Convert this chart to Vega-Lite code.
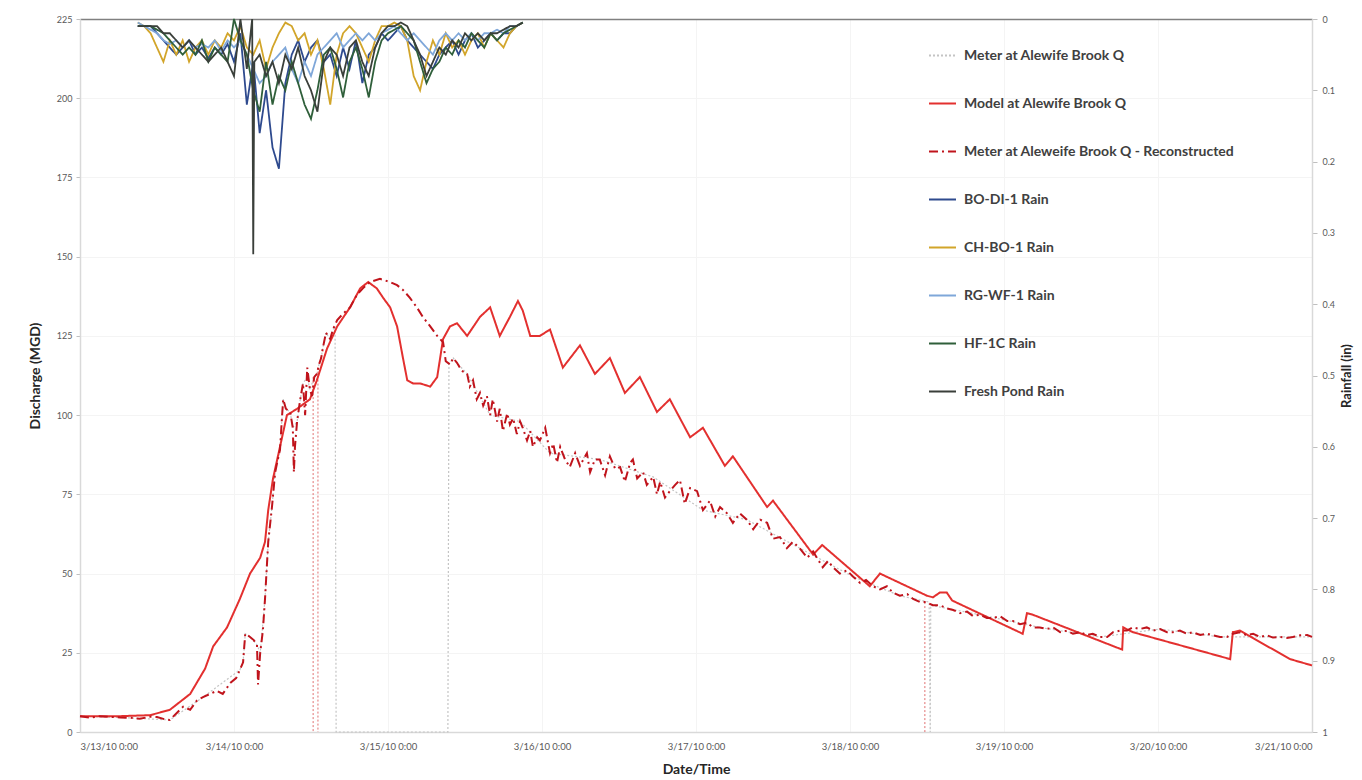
{
"$schema":"https://vega.github.io/schema/vega-lite/v6.json",
"autosize":{"type":"none"},
"padding":{"left":80,"top":19,"right":50,"bottom":48},
"width":1232,"height":713,
"datasets":{
"meter":[{"t":"2010-03-13T00:00Z","v":5},{"t":"2010-03-13T06:15Z","v":4.6},{"t":"2010-03-13T14:00Z","v":3.8},{"t":"2010-03-13T19:10Z","v":11},{"t":"2010-03-14T00:55Z","v":19.6},{"t":"2010-03-14T01:25Z","v":22},{"t":"2010-03-14T01:45Z","v":31},{"t":"2010-03-14T02:30Z","v":30},{"t":"2010-03-14T03:35Z","v":27.5},{"t":"2010-03-14T04:05Z","v":25},{"t":"2010-03-14T04:50Z","v":42},{"t":"2010-03-14T05:20Z","v":60},{"t":"2010-03-14T05:55Z","v":71},{"t":"2010-03-14T06:25Z","v":82},{"t":"2010-03-14T06:50Z","v":86},{"t":"2010-03-14T07:10Z","v":89},{"t":"2010-03-14T07:30Z","v":100},{"t":"2010-03-14T07:40Z","v":105},{"t":"2010-03-14T08:05Z","v":102},{"t":"2010-03-14T08:45Z","v":101},{"t":"2010-03-14T09:10Z","v":96},{"t":"2010-03-14T09:50Z","v":98},{"t":"2010-03-14T10:15Z","v":104},{"t":"2010-03-14T10:45Z","v":110},{"t":"2010-03-14T11:25Z","v":112},{"t":"2010-03-14T11:50Z","v":108},{"t":"2010-03-14T12:30Z","v":112},{"t":"2010-03-14T12:55Z","v":113},{"t":"2010-03-14T13:15Z","v":116},{"t":"2010-03-14T13:35Z","v":118},{"t":"2010-03-14T13:50Z","v":121},{"t":"2010-03-14T14:20Z","v":126},{"t":"2010-03-14T15:00Z","v":124},{"t":"2010-03-14T15:25Z","v":127},{"t":"2010-03-14T15:45Z","v":128},{"t":"2010-03-14T15:55Z","v":0},{"t":"2010-03-15T09:20Z","v":0},{"t":"2010-03-15T09:30Z","v":116},{"t":"2010-03-15T10:10Z","v":118},{"t":"2010-03-15T10:45Z","v":116.5},{"t":"2010-03-15T12:20Z","v":113},{"t":"2010-03-15T15:55Z","v":100},{"t":"2010-03-15T20:35Z","v":98},{"t":"2010-03-16T01:15Z","v":88},{"t":"2010-03-16T09:00Z","v":86},{"t":"2010-03-16T17:20Z","v":80.5},{"t":"2010-03-17T01:05Z","v":70},{"t":"2010-03-17T07:55Z","v":67},{"t":"2010-03-17T16:10Z","v":58},{"t":"2010-03-18T00:30Z","v":49},{"t":"2010-03-18T07:45Z","v":43},{"t":"2010-03-18T12:20Z","v":41},{"t":"2010-03-18T12:30Z","v":0},{"t":"2010-03-18T12:35Z","v":40},{"t":"2010-03-18T20:15Z","v":37},{"t":"2010-03-19T05:35Z","v":33},{"t":"2010-03-19T14:55Z","v":30},{"t":"2010-03-20T00:20Z","v":32.5},{"t":"2010-03-20T09:40Z","v":30},{"t":"2010-03-21T00:00Z","v":30}],
"gaps":[{"t":"2010-03-14T12:20Z","v":112},{"t":"2010-03-14T13:05Z","v":115},{"t":"2010-03-18T11:40Z","v":41}],
"model":[{"t":"2010-03-13T00:00Z","v":5},{"t":"2010-03-13T06:15Z","v":5},{"t":"2010-03-13T10:55Z","v":5.3},{"t":"2010-03-13T14:00Z","v":7},{"t":"2010-03-13T17:10Z","v":12},{"t":"2010-03-13T19:30Z","v":20},{"t":"2010-03-13T20:45Z","v":27},{"t":"2010-03-13T21:50Z","v":30},{"t":"2010-03-13T22:55Z","v":33},{"t":"2010-03-14T00:55Z","v":42},{"t":"2010-03-14T02:30Z","v":50},{"t":"2010-03-14T04:05Z","v":55},{"t":"2010-03-14T04:50Z","v":60},{"t":"2010-03-14T05:20Z","v":70},{"t":"2010-03-14T06:05Z","v":80},{"t":"2010-03-14T07:10Z","v":90},{"t":"2010-03-14T08:15Z","v":100},{"t":"2010-03-14T09:50Z","v":102},{"t":"2010-03-14T11:50Z","v":105},{"t":"2010-03-14T12:55Z","v":111},{"t":"2010-03-14T14:30Z","v":121},{"t":"2010-03-14T16:05Z","v":128},{"t":"2010-03-14T18:05Z","v":134},{"t":"2010-03-14T19:40Z","v":140},{"t":"2010-03-14T20:55Z","v":142},{"t":"2010-03-14T22:15Z","v":140},{"t":"2010-03-14T23:15Z","v":137},{"t":"2010-03-15T00:20Z","v":134},{"t":"2010-03-15T01:25Z","v":128},{"t":"2010-03-15T02:20Z","v":118},{"t":"2010-03-15T03:00Z","v":111},{"t":"2010-03-15T03:55Z","v":110},{"t":"2010-03-15T05:00Z","v":110},{"t":"2010-03-15T06:35Z","v":109},{"t":"2010-03-15T07:40Z","v":112},{"t":"2010-03-15T08:35Z","v":124},{"t":"2010-03-15T09:40Z","v":128},{"t":"2010-03-15T10:45Z","v":129},{"t":"2010-03-15T12:20Z","v":125},{"t":"2010-03-15T14:20Z","v":131},{"t":"2010-03-15T15:55Z","v":134},{"t":"2010-03-15T17:25Z","v":125},{"t":"2010-03-15T19:00Z","v":131},{"t":"2010-03-15T20:15Z","v":136},{"t":"2010-03-15T21:00Z","v":133},{"t":"2010-03-15T22:10Z","v":125},{"t":"2010-03-15T23:40Z","v":125},{"t":"2010-03-16T01:15Z","v":127},{"t":"2010-03-16T03:15Z","v":115},{"t":"2010-03-16T05:55Z","v":122},{"t":"2010-03-16T08:15Z","v":113},{"t":"2010-03-16T10:35Z","v":118},{"t":"2010-03-16T12:55Z","v":107},{"t":"2010-03-16T15:15Z","v":112},{"t":"2010-03-16T17:55Z","v":101},{"t":"2010-03-16T19:55Z","v":105},{"t":"2010-03-16T23:05Z","v":93},{"t":"2010-03-17T01:05Z","v":96},{"t":"2010-03-17T04:30Z","v":84},{"t":"2010-03-17T05:45Z","v":87},{"t":"2010-03-17T11:05Z","v":71},{"t":"2010-03-17T12:00Z","v":73},{"t":"2010-03-17T18:15Z","v":56},{"t":"2010-03-17T19:40Z","v":59},{"t":"2010-03-18T03:05Z","v":46},{"t":"2010-03-18T04:40Z","v":50},{"t":"2010-03-18T12:00Z","v":43},{"t":"2010-03-18T12:55Z","v":42.5},{"t":"2010-03-18T14:00Z","v":44},{"t":"2010-03-18T15:05Z","v":44},{"t":"2010-03-18T15:55Z","v":41.5},{"t":"2010-03-19T02:55Z","v":31},{"t":"2010-03-19T03:35Z","v":37.5},{"t":"2010-03-19T04:30Z","v":37},{"t":"2010-03-19T18:25Z","v":26},{"t":"2010-03-19T18:35Z","v":33},{"t":"2010-03-19T20:05Z","v":31.5},{"t":"2010-03-20T11:15Z","v":23},{"t":"2010-03-20T11:40Z","v":31.5},{"t":"2010-03-20T12:45Z","v":32},{"t":"2010-03-20T20:35Z","v":23},{"t":"2010-03-21T00:00Z","v":21}],
"recon":[{"t":"2010-03-13T00:00Z","v":5},{"t":"2010-03-13T01:35Z","v":4.5},{"t":"2010-03-13T03:05Z","v":5},{"t":"2010-03-13T04:40Z","v":4.8},{"t":"2010-03-13T06:15Z","v":4.6},{"t":"2010-03-13T07:45Z","v":4.5},{"t":"2010-03-13T09:20Z","v":4.2},{"t":"2010-03-13T10:55Z","v":4.8},{"t":"2010-03-13T12:00Z","v":4.7},{"t":"2010-03-13T13:15Z","v":4},{"t":"2010-03-13T14:00Z","v":3.8},{"t":"2010-03-13T15:05Z","v":6},{"t":"2010-03-13T16:05Z","v":8},{"t":"2010-03-13T17:10Z","v":7},{"t":"2010-03-13T18:15Z","v":10},{"t":"2010-03-13T19:10Z","v":11},{"t":"2010-03-13T20:15Z","v":12},{"t":"2010-03-13T21:20Z","v":13},{"t":"2010-03-13T22:15Z","v":12},{"t":"2010-03-13T23:25Z","v":15.5},{"t":"2010-03-14T00:20Z","v":17},{"t":"2010-03-14T00:55Z","v":19.6},{"t":"2010-03-14T01:25Z","v":22},{"t":"2010-03-14T01:45Z","v":31},{"t":"2010-03-14T02:30Z","v":30},{"t":"2010-03-14T03:05Z","v":29},{"t":"2010-03-14T03:35Z","v":27.5},{"t":"2010-03-14T03:45Z","v":15},{"t":"2010-03-14T04:05Z","v":25},{"t":"2010-03-14T04:30Z","v":32},{"t":"2010-03-14T04:50Z","v":42},{"t":"2010-03-14T05:20Z","v":60},{"t":"2010-03-14T05:55Z","v":71},{"t":"2010-03-14T06:25Z","v":82},{"t":"2010-03-14T06:50Z","v":86},{"t":"2010-03-14T07:10Z","v":89},{"t":"2010-03-14T07:30Z","v":100},{"t":"2010-03-14T07:40Z","v":105},{"t":"2010-03-14T08:05Z","v":102},{"t":"2010-03-14T08:45Z","v":101},{"t":"2010-03-14T09:10Z","v":96},{"t":"2010-03-14T09:20Z","v":82},{"t":"2010-03-14T09:30Z","v":90},{"t":"2010-03-14T09:50Z","v":98},{"t":"2010-03-14T10:15Z","v":104},{"t":"2010-03-14T10:45Z","v":110},{"t":"2010-03-14T11:05Z","v":100},{"t":"2010-03-14T11:25Z","v":115},{"t":"2010-03-14T11:50Z","v":108},{"t":"2010-03-14T12:10Z","v":106},{"t":"2010-03-14T12:30Z","v":112},{"t":"2010-03-14T12:55Z","v":113},{"t":"2010-03-14T13:15Z","v":116},{"t":"2010-03-14T13:35Z","v":118},{"t":"2010-03-14T13:50Z","v":121},{"t":"2010-03-14T14:20Z","v":126},{"t":"2010-03-14T15:00Z","v":124},{"t":"2010-03-14T15:25Z","v":127},{"t":"2010-03-14T16:05Z","v":130},{"t":"2010-03-14T17:00Z","v":132},{"t":"2010-03-14T18:05Z","v":134},{"t":"2010-03-14T19:10Z","v":138},{"t":"2010-03-14T20:05Z","v":140},{"t":"2010-03-14T21:10Z","v":142},{"t":"2010-03-14T22:45Z","v":143},{"t":"2010-03-15T00:20Z","v":142},{"t":"2010-03-15T01:25Z","v":141},{"t":"2010-03-15T02:20Z","v":139.5},{"t":"2010-03-15T03:25Z","v":137},{"t":"2010-03-15T04:30Z","v":134},{"t":"2010-03-15T05:25Z","v":131},{"t":"2010-03-15T06:35Z","v":128},{"t":"2010-03-15T07:40Z","v":125},{"t":"2010-03-15T08:35Z","v":123},{"t":"2010-03-15T09:00Z","v":117},{"t":"2010-03-15T09:40Z","v":116},{"t":"2010-03-15T10:10Z","v":118},{"t":"2010-03-15T10:45Z","v":116.5},{"t":"2010-03-15T11:30Z","v":114},{"t":"2010-03-15T12:20Z","v":113},{"t":"2010-03-15T12:45Z","v":109},{"t":"2010-03-15T13:15Z","v":111},{"t":"2010-03-15T13:50Z","v":105},{"t":"2010-03-15T14:20Z","v":107},{"t":"2010-03-15T14:50Z","v":103},{"t":"2010-03-15T15:25Z","v":106},{"t":"2010-03-15T15:55Z","v":100},{"t":"2010-03-15T16:20Z","v":105},{"t":"2010-03-15T17:00Z","v":98},{"t":"2010-03-15T17:25Z","v":102},{"t":"2010-03-15T17:55Z","v":95},{"t":"2010-03-15T18:35Z","v":100.6},{"t":"2010-03-15T19:00Z","v":97},{"t":"2010-03-15T19:30Z","v":99},{"t":"2010-03-15T20:05Z","v":94},{"t":"2010-03-15T20:35Z","v":98},{"t":"2010-03-15T21:00Z","v":96},{"t":"2010-03-15T21:40Z","v":92},{"t":"2010-03-15T22:10Z","v":95},{"t":"2010-03-15T22:35Z","v":90},{"t":"2010-03-15T23:15Z","v":93},{"t":"2010-03-15T23:40Z","v":92},{"t":"2010-03-16T00:30Z","v":96},{"t":"2010-03-16T01:15Z","v":88},{"t":"2010-03-16T01:45Z","v":91},{"t":"2010-03-16T02:20Z","v":85},{"t":"2010-03-16T02:50Z","v":90},{"t":"2010-03-16T03:35Z","v":86},{"t":"2010-03-16T04:20Z","v":83.6},{"t":"2010-03-16T05:10Z","v":88},{"t":"2010-03-16T05:55Z","v":84},{"t":"2010-03-16T07:00Z","v":88},{"t":"2010-03-16T07:30Z","v":82},{"t":"2010-03-16T08:15Z","v":86},{"t":"2010-03-16T09:00Z","v":86},{"t":"2010-03-16T09:50Z","v":81},{"t":"2010-03-16T10:35Z","v":87},{"t":"2010-03-16T11:25Z","v":83},{"t":"2010-03-16T12:10Z","v":83.6},{"t":"2010-03-16T12:55Z","v":79},{"t":"2010-03-16T13:45Z","v":85},{"t":"2010-03-16T14:10Z","v":86},{"t":"2010-03-16T14:50Z","v":80},{"t":"2010-03-16T15:45Z","v":82},{"t":"2010-03-16T16:20Z","v":78},{"t":"2010-03-16T17:20Z","v":80.5},{"t":"2010-03-16T17:55Z","v":75},{"t":"2010-03-16T18:25Z","v":79},{"t":"2010-03-16T19:10Z","v":74},{"t":"2010-03-16T19:55Z","v":76},{"t":"2010-03-16T20:45Z","v":78},{"t":"2010-03-16T21:30Z","v":79.5},{"t":"2010-03-16T22:15Z","v":72},{"t":"2010-03-16T23:05Z","v":77},{"t":"2010-03-17T00:10Z","v":76},{"t":"2010-03-17T01:05Z","v":70},{"t":"2010-03-17T02:10Z","v":73},{"t":"2010-03-17T03:00Z","v":68},{"t":"2010-03-17T03:45Z","v":71},{"t":"2010-03-17T04:50Z","v":69},{"t":"2010-03-17T05:45Z","v":66},{"t":"2010-03-17T06:50Z","v":69},{"t":"2010-03-17T07:55Z","v":67},{"t":"2010-03-17T08:55Z","v":64},{"t":"2010-03-17T10:00Z","v":67},{"t":"2010-03-17T11:05Z","v":66},{"t":"2010-03-17T12:00Z","v":61},{"t":"2010-03-17T13:05Z","v":61.5},{"t":"2010-03-17T14:10Z","v":58},{"t":"2010-03-17T15:05Z","v":60},{"t":"2010-03-17T16:10Z","v":58},{"t":"2010-03-17T17:20Z","v":55},{"t":"2010-03-17T18:15Z","v":57},{"t":"2010-03-17T18:50Z","v":55},{"t":"2010-03-17T19:45Z","v":52},{"t":"2010-03-17T20:35Z","v":54},{"t":"2010-03-17T21:20Z","v":52},{"t":"2010-03-17T22:25Z","v":50},{"t":"2010-03-17T23:30Z","v":51},{"t":"2010-03-18T00:30Z","v":49},{"t":"2010-03-18T01:35Z","v":47},{"t":"2010-03-18T02:30Z","v":48},{"t":"2010-03-18T03:35Z","v":46},{"t":"2010-03-18T04:40Z","v":45},{"t":"2010-03-18T05:45Z","v":46},{"t":"2010-03-18T06:40Z","v":44},{"t":"2010-03-18T07:45Z","v":43},{"t":"2010-03-18T08:55Z","v":43.5},{"t":"2010-03-18T09:50Z","v":42},{"t":"2010-03-18T10:55Z","v":41},{"t":"2010-03-18T11:50Z","v":41},{"t":"2010-03-18T12:55Z","v":40},{"t":"2010-03-18T14:00Z","v":40},{"t":"2010-03-18T15:05Z","v":39},{"t":"2010-03-18T16:05Z","v":38.5},{"t":"2010-03-18T17:10Z","v":37.5},{"t":"2010-03-18T18:15Z","v":38},{"t":"2010-03-18T19:10Z","v":36.6},{"t":"2010-03-18T20:15Z","v":37},{"t":"2010-03-18T21:20Z","v":36},{"t":"2010-03-18T22:15Z","v":36},{"t":"2010-03-18T23:25Z","v":36.5},{"t":"2010-03-19T00:30Z","v":35},{"t":"2010-03-19T01:25Z","v":35},{"t":"2010-03-19T02:30Z","v":34},{"t":"2010-03-19T03:35Z","v":34.5},{"t":"2010-03-19T04:30Z","v":33},{"t":"2010-03-19T05:35Z","v":33},{"t":"2010-03-19T06:40Z","v":32.5},{"t":"2010-03-19T07:40Z","v":33},{"t":"2010-03-19T08:45Z","v":31.5},{"t":"2010-03-19T09:50Z","v":32},{"t":"2010-03-19T10:45Z","v":31},{"t":"2010-03-19T11:50Z","v":31.5},{"t":"2010-03-19T12:55Z","v":30.6},{"t":"2010-03-19T13:50Z","v":31},{"t":"2010-03-19T14:55Z","v":30},{"t":"2010-03-19T16:05Z","v":30},{"t":"2010-03-19T17:00Z","v":31.5},{"t":"2010-03-19T18:05Z","v":32},{"t":"2010-03-19T19:10Z","v":32},{"t":"2010-03-19T20:05Z","v":33},{"t":"2010-03-19T21:10Z","v":32.5},{"t":"2010-03-19T22:15Z","v":33},{"t":"2010-03-19T23:15Z","v":32},{"t":"2010-03-20T00:20Z","v":32.5},{"t":"2010-03-20T01:25Z","v":31.5},{"t":"2010-03-20T02:20Z","v":31.5},{"t":"2010-03-20T03:25Z","v":32},{"t":"2010-03-20T04:30Z","v":31},{"t":"2010-03-20T05:25Z","v":31.5},{"t":"2010-03-20T06:35Z","v":30.6},{"t":"2010-03-20T07:40Z","v":31},{"t":"2010-03-20T08:35Z","v":30.5},{"t":"2010-03-20T09:40Z","v":30},{"t":"2010-03-20T10:45Z","v":30},{"t":"2010-03-20T11:40Z","v":31},{"t":"2010-03-20T12:45Z","v":31.5},{"t":"2010-03-20T13:50Z","v":30.5},{"t":"2010-03-20T14:50Z","v":31},{"t":"2010-03-20T15:55Z","v":30},{"t":"2010-03-20T17:00Z","v":30.5},{"t":"2010-03-20T17:55Z","v":29.8},{"t":"2010-03-20T19:00Z","v":30},{"t":"2010-03-20T20:05Z","v":29.7},{"t":"2010-03-20T21:00Z","v":30},{"t":"2010-03-20T22:10Z","v":30.5},{"t":"2010-03-20T23:15Z","v":30.6},{"t":"2010-03-21T00:00Z","v":30}],
"bodi":[{"t":"2010-03-13T09:00Z","v":0.01},{"t":"2010-03-13T10:00Z","v":0.01},{"t":"2010-03-13T11:00Z","v":0.01},{"t":"2010-03-13T12:00Z","v":0.02},{"t":"2010-03-13T13:00Z","v":0.03},{"t":"2010-03-13T14:00Z","v":0.04},{"t":"2010-03-13T15:00Z","v":0.05},{"t":"2010-03-13T16:00Z","v":0.04},{"t":"2010-03-13T17:00Z","v":0.03},{"t":"2010-03-13T18:00Z","v":0.05},{"t":"2010-03-13T19:00Z","v":0.04},{"t":"2010-03-13T20:00Z","v":0.055},{"t":"2010-03-13T21:00Z","v":0.04},{"t":"2010-03-13T22:00Z","v":0.05},{"t":"2010-03-13T23:00Z","v":0.035},{"t":"2010-03-14T00:00Z","v":0.06},{"t":"2010-03-14T01:00Z","v":0.02},{"t":"2010-03-14T02:00Z","v":0.12},{"t":"2010-03-14T03:00Z","v":0.06},{"t":"2010-03-14T04:00Z","v":0.16},{"t":"2010-03-14T05:00Z","v":0.1},{"t":"2010-03-14T06:00Z","v":0.18},{"t":"2010-03-14T07:00Z","v":0.21},{"t":"2010-03-14T08:00Z","v":0.09},{"t":"2010-03-14T09:00Z","v":0.05},{"t":"2010-03-14T10:00Z","v":0.03},{"t":"2010-03-14T11:00Z","v":0.06},{"t":"2010-03-14T12:00Z","v":0.04},{"t":"2010-03-14T13:00Z","v":0.03},{"t":"2010-03-14T14:00Z","v":0.06},{"t":"2010-03-14T15:00Z","v":0.05},{"t":"2010-03-14T16:00Z","v":0.08},{"t":"2010-03-14T17:00Z","v":0.04},{"t":"2010-03-14T18:00Z","v":0.07},{"t":"2010-03-14T19:00Z","v":0.03},{"t":"2010-03-14T20:00Z","v":0.09},{"t":"2010-03-14T21:00Z","v":0.05},{"t":"2010-03-14T22:00Z","v":0.04},{"t":"2010-03-14T23:00Z","v":0.02},{"t":"2010-03-15T00:00Z","v":0.03},{"t":"2010-03-15T01:00Z","v":0.02},{"t":"2010-03-15T02:00Z","v":0.01},{"t":"2010-03-15T03:00Z","v":0.03},{"t":"2010-03-15T04:00Z","v":0.04},{"t":"2010-03-15T05:00Z","v":0.05},{"t":"2010-03-15T06:00Z","v":0.06},{"t":"2010-03-15T07:00Z","v":0.07},{"t":"2010-03-15T08:00Z","v":0.05},{"t":"2010-03-15T09:00Z","v":0.04},{"t":"2010-03-15T10:00Z","v":0.03},{"t":"2010-03-15T11:00Z","v":0.05},{"t":"2010-03-15T12:00Z","v":0.03},{"t":"2010-03-15T13:00Z","v":0.02},{"t":"2010-03-15T14:00Z","v":0.04},{"t":"2010-03-15T15:00Z","v":0.03},{"t":"2010-03-15T16:00Z","v":0.02},{"t":"2010-03-15T17:00Z","v":0.03},{"t":"2010-03-15T18:00Z","v":0.02},{"t":"2010-03-15T19:00Z","v":0.02},{"t":"2010-03-15T20:00Z","v":0.01},{"t":"2010-03-15T21:00Z","v":0.005}],
"chbo":[{"t":"2010-03-13T09:00Z","v":0.005},{"t":"2010-03-13T10:00Z","v":0.01},{"t":"2010-03-13T11:00Z","v":0.02},{"t":"2010-03-13T12:00Z","v":0.04},{"t":"2010-03-13T13:00Z","v":0.06},{"t":"2010-03-13T14:00Z","v":0.03},{"t":"2010-03-13T15:00Z","v":0.05},{"t":"2010-03-13T16:00Z","v":0.03},{"t":"2010-03-13T17:00Z","v":0.06},{"t":"2010-03-13T18:00Z","v":0.04},{"t":"2010-03-13T19:00Z","v":0.03},{"t":"2010-03-13T20:00Z","v":0.05},{"t":"2010-03-13T21:00Z","v":0.03},{"t":"2010-03-13T22:00Z","v":0.04},{"t":"2010-03-13T23:00Z","v":0.02},{"t":"2010-03-14T00:00Z","v":0.03},{"t":"2010-03-14T01:00Z","v":0.01},{"t":"2010-03-14T02:00Z","v":0.04},{"t":"2010-03-14T03:00Z","v":0.05},{"t":"2010-03-14T04:00Z","v":0.03},{"t":"2010-03-14T05:00Z","v":0.07},{"t":"2010-03-14T06:00Z","v":0.04},{"t":"2010-03-14T07:00Z","v":0.02},{"t":"2010-03-14T08:00Z","v":0.005},{"t":"2010-03-14T09:00Z","v":0.01},{"t":"2010-03-14T10:00Z","v":0.03},{"t":"2010-03-14T11:00Z","v":0.02},{"t":"2010-03-14T12:00Z","v":0.05},{"t":"2010-03-14T13:00Z","v":0.03},{"t":"2010-03-14T14:00Z","v":0.07},{"t":"2010-03-14T15:00Z","v":0.12},{"t":"2010-03-14T16:00Z","v":0.05},{"t":"2010-03-14T17:00Z","v":0.02},{"t":"2010-03-14T18:00Z","v":0.01},{"t":"2010-03-14T19:00Z","v":0.02},{"t":"2010-03-14T20:00Z","v":0.04},{"t":"2010-03-14T21:00Z","v":0.06},{"t":"2010-03-14T22:00Z","v":0.03},{"t":"2010-03-14T23:00Z","v":0.01},{"t":"2010-03-15T00:00Z","v":0.01},{"t":"2010-03-15T01:00Z","v":0.005},{"t":"2010-03-15T02:00Z","v":0.01},{"t":"2010-03-15T03:00Z","v":0.03},{"t":"2010-03-15T04:00Z","v":0.08},{"t":"2010-03-15T05:00Z","v":0.1},{"t":"2010-03-15T06:00Z","v":0.06},{"t":"2010-03-15T07:00Z","v":0.03},{"t":"2010-03-15T08:00Z","v":0.05},{"t":"2010-03-15T09:00Z","v":0.02},{"t":"2010-03-15T10:00Z","v":0.04},{"t":"2010-03-15T11:00Z","v":0.03},{"t":"2010-03-15T12:00Z","v":0.05},{"t":"2010-03-15T13:00Z","v":0.03},{"t":"2010-03-15T14:00Z","v":0.02},{"t":"2010-03-15T15:00Z","v":0.04},{"t":"2010-03-15T16:00Z","v":0.02},{"t":"2010-03-15T17:00Z","v":0.03},{"t":"2010-03-15T18:00Z","v":0.04},{"t":"2010-03-15T19:00Z","v":0.02},{"t":"2010-03-15T20:00Z","v":0.01},{"t":"2010-03-15T21:00Z","v":0.005}],
"rgwf":[{"t":"2010-03-13T09:00Z","v":0.005},{"t":"2010-03-13T10:00Z","v":0.01},{"t":"2010-03-13T11:00Z","v":0.015},{"t":"2010-03-13T12:00Z","v":0.02},{"t":"2010-03-13T13:00Z","v":0.03},{"t":"2010-03-13T14:00Z","v":0.035},{"t":"2010-03-13T15:00Z","v":0.03},{"t":"2010-03-13T16:00Z","v":0.04},{"t":"2010-03-13T17:00Z","v":0.03},{"t":"2010-03-13T18:00Z","v":0.04},{"t":"2010-03-13T19:00Z","v":0.035},{"t":"2010-03-13T20:00Z","v":0.04},{"t":"2010-03-13T21:00Z","v":0.03},{"t":"2010-03-13T22:00Z","v":0.045},{"t":"2010-03-13T23:00Z","v":0.03},{"t":"2010-03-14T00:00Z","v":0.04},{"t":"2010-03-14T01:00Z","v":0.03},{"t":"2010-03-14T02:00Z","v":0.05},{"t":"2010-03-14T03:00Z","v":0.07},{"t":"2010-03-14T04:00Z","v":0.09},{"t":"2010-03-14T05:00Z","v":0.08},{"t":"2010-03-14T06:00Z","v":0.06},{"t":"2010-03-14T07:00Z","v":0.05},{"t":"2010-03-14T08:00Z","v":0.04},{"t":"2010-03-14T09:00Z","v":0.07},{"t":"2010-03-14T10:00Z","v":0.09},{"t":"2010-03-14T11:00Z","v":0.06},{"t":"2010-03-14T12:00Z","v":0.08},{"t":"2010-03-14T13:00Z","v":0.05},{"t":"2010-03-14T14:00Z","v":0.04},{"t":"2010-03-14T15:00Z","v":0.03},{"t":"2010-03-14T16:00Z","v":0.02},{"t":"2010-03-14T17:00Z","v":0.04},{"t":"2010-03-14T18:00Z","v":0.03},{"t":"2010-03-14T19:00Z","v":0.02},{"t":"2010-03-14T20:00Z","v":0.03},{"t":"2010-03-14T21:00Z","v":0.02},{"t":"2010-03-14T22:00Z","v":0.03},{"t":"2010-03-14T23:00Z","v":0.02},{"t":"2010-03-15T00:00Z","v":0.015},{"t":"2010-03-15T01:00Z","v":0.01},{"t":"2010-03-15T02:00Z","v":0.02},{"t":"2010-03-15T03:00Z","v":0.03},{"t":"2010-03-15T04:00Z","v":0.02},{"t":"2010-03-15T05:00Z","v":0.03},{"t":"2010-03-15T06:00Z","v":0.04},{"t":"2010-03-15T07:00Z","v":0.05},{"t":"2010-03-15T08:00Z","v":0.03},{"t":"2010-03-15T09:00Z","v":0.02},{"t":"2010-03-15T10:00Z","v":0.03},{"t":"2010-03-15T11:00Z","v":0.02},{"t":"2010-03-15T12:00Z","v":0.03},{"t":"2010-03-15T13:00Z","v":0.02},{"t":"2010-03-15T14:00Z","v":0.03},{"t":"2010-03-15T15:00Z","v":0.02},{"t":"2010-03-15T16:00Z","v":0.02},{"t":"2010-03-15T17:00Z","v":0.015},{"t":"2010-03-15T18:00Z","v":0.02},{"t":"2010-03-15T19:00Z","v":0.01},{"t":"2010-03-15T20:00Z","v":0.01},{"t":"2010-03-15T21:00Z","v":0.005}],
"hf1c":[{"t":"2010-03-13T09:00Z","v":0.01},{"t":"2010-03-13T10:00Z","v":0.01},{"t":"2010-03-13T11:00Z","v":0.01},{"t":"2010-03-13T12:00Z","v":0.015},{"t":"2010-03-13T13:00Z","v":0.02},{"t":"2010-03-13T14:00Z","v":0.03},{"t":"2010-03-13T15:00Z","v":0.04},{"t":"2010-03-13T16:00Z","v":0.05},{"t":"2010-03-13T17:00Z","v":0.04},{"t":"2010-03-13T18:00Z","v":0.05},{"t":"2010-03-13T19:00Z","v":0.03},{"t":"2010-03-13T20:00Z","v":0.06},{"t":"2010-03-13T21:00Z","v":0.04},{"t":"2010-03-13T22:00Z","v":0.05},{"t":"2010-03-13T23:00Z","v":0.06},{"t":"2010-03-14T00:00Z","v":0.0},{"t":"2010-03-14T01:00Z","v":0.03},{"t":"2010-03-14T02:00Z","v":0.05},{"t":"2010-03-14T03:00Z","v":0.1},{"t":"2010-03-14T04:00Z","v":0.13},{"t":"2010-03-14T05:00Z","v":0.06},{"t":"2010-03-14T06:00Z","v":0.12},{"t":"2010-03-14T07:00Z","v":0.08},{"t":"2010-03-14T08:00Z","v":0.1},{"t":"2010-03-14T09:00Z","v":0.06},{"t":"2010-03-14T10:00Z","v":0.09},{"t":"2010-03-14T11:00Z","v":0.12},{"t":"2010-03-14T12:00Z","v":0.14},{"t":"2010-03-14T13:00Z","v":0.1},{"t":"2010-03-14T14:00Z","v":0.05},{"t":"2010-03-14T15:00Z","v":0.04},{"t":"2010-03-14T16:00Z","v":0.07},{"t":"2010-03-14T17:00Z","v":0.11},{"t":"2010-03-14T18:00Z","v":0.06},{"t":"2010-03-14T19:00Z","v":0.04},{"t":"2010-03-14T20:00Z","v":0.07},{"t":"2010-03-14T21:00Z","v":0.11},{"t":"2010-03-14T22:00Z","v":0.06},{"t":"2010-03-14T23:00Z","v":0.03},{"t":"2010-03-15T00:00Z","v":0.02},{"t":"2010-03-15T01:00Z","v":0.015},{"t":"2010-03-15T02:00Z","v":0.01},{"t":"2010-03-15T03:00Z","v":0.02},{"t":"2010-03-15T04:00Z","v":0.03},{"t":"2010-03-15T05:00Z","v":0.06},{"t":"2010-03-15T06:00Z","v":0.09},{"t":"2010-03-15T07:00Z","v":0.07},{"t":"2010-03-15T08:00Z","v":0.06},{"t":"2010-03-15T09:00Z","v":0.04},{"t":"2010-03-15T10:00Z","v":0.05},{"t":"2010-03-15T11:00Z","v":0.03},{"t":"2010-03-15T12:00Z","v":0.04},{"t":"2010-03-15T13:00Z","v":0.02},{"t":"2010-03-15T14:00Z","v":0.03},{"t":"2010-03-15T15:00Z","v":0.04},{"t":"2010-03-15T16:00Z","v":0.02},{"t":"2010-03-15T17:00Z","v":0.03},{"t":"2010-03-15T18:00Z","v":0.02},{"t":"2010-03-15T19:00Z","v":0.015},{"t":"2010-03-15T20:00Z","v":0.01},{"t":"2010-03-15T21:00Z","v":0.005}],
"fresh":[{"t":"2010-03-13T09:00Z","v":0.01},{"t":"2010-03-13T10:00Z","v":0.01},{"t":"2010-03-13T11:00Z","v":0.01},{"t":"2010-03-13T12:00Z","v":0.01},{"t":"2010-03-13T13:00Z","v":0.02},{"t":"2010-03-13T14:00Z","v":0.02},{"t":"2010-03-13T15:00Z","v":0.03},{"t":"2010-03-13T16:00Z","v":0.04},{"t":"2010-03-13T17:00Z","v":0.03},{"t":"2010-03-13T18:00Z","v":0.04},{"t":"2010-03-13T19:00Z","v":0.05},{"t":"2010-03-13T20:00Z","v":0.06},{"t":"2010-03-13T21:00Z","v":0.05},{"t":"2010-03-13T22:00Z","v":0.04},{"t":"2010-03-13T23:00Z","v":0.06},{"t":"2010-03-14T00:00Z","v":0.08},{"t":"2010-03-14T01:00Z","v":0.0},{"t":"2010-03-14T02:00Z","v":0.07},{"t":"2010-03-14T02:50Z","v":0.0},{"t":"2010-03-14T03:00Z","v":0.33},{"t":"2010-03-14T03:10Z","v":0.06},{"t":"2010-03-14T04:00Z","v":0.05},{"t":"2010-03-14T05:00Z","v":0.08},{"t":"2010-03-14T06:00Z","v":0.06},{"t":"2010-03-14T07:00Z","v":0.09},{"t":"2010-03-14T08:00Z","v":0.05},{"t":"2010-03-14T09:00Z","v":0.07},{"t":"2010-03-14T10:00Z","v":0.04},{"t":"2010-03-14T11:00Z","v":0.08},{"t":"2010-03-14T12:00Z","v":0.1},{"t":"2010-03-14T13:00Z","v":0.13},{"t":"2010-03-14T14:00Z","v":0.06},{"t":"2010-03-14T15:00Z","v":0.04},{"t":"2010-03-14T16:00Z","v":0.05},{"t":"2010-03-14T17:00Z","v":0.08},{"t":"2010-03-14T18:00Z","v":0.04},{"t":"2010-03-14T19:00Z","v":0.03},{"t":"2010-03-14T20:00Z","v":0.06},{"t":"2010-03-14T21:00Z","v":0.08},{"t":"2010-03-14T22:00Z","v":0.04},{"t":"2010-03-14T23:00Z","v":0.02},{"t":"2010-03-15T00:00Z","v":0.01},{"t":"2010-03-15T01:00Z","v":0.01},{"t":"2010-03-15T02:00Z","v":0.005},{"t":"2010-03-15T03:00Z","v":0.01},{"t":"2010-03-15T04:00Z","v":0.03},{"t":"2010-03-15T05:00Z","v":0.05},{"t":"2010-03-15T06:00Z","v":0.08},{"t":"2010-03-15T07:00Z","v":0.06},{"t":"2010-03-15T08:00Z","v":0.04},{"t":"2010-03-15T09:00Z","v":0.05},{"t":"2010-03-15T10:00Z","v":0.03},{"t":"2010-03-15T11:00Z","v":0.04},{"t":"2010-03-15T12:00Z","v":0.02},{"t":"2010-03-15T13:00Z","v":0.03},{"t":"2010-03-15T14:00Z","v":0.02},{"t":"2010-03-15T15:00Z","v":0.03},{"t":"2010-03-15T16:00Z","v":0.02},{"t":"2010-03-15T17:00Z","v":0.02},{"t":"2010-03-15T18:00Z","v":0.015},{"t":"2010-03-15T19:00Z","v":0.01},{"t":"2010-03-15T20:00Z","v":0.01},{"t":"2010-03-15T21:00Z","v":0.005}]
},
"config":{
"font":"Lato",
"view":{"stroke":null},
"axis":{"labelColor":"#595959","labelFontSize":9,"titleColor":"#262626","titleFontSize":14,"titleFontWeight":"bold","domainColor":"#D9D9D9","tickColor":"#BFBFBF","gridColor":"#F4F4F4"},
"legend":{"orient":"none","legendX":848,"legendY":22,"title":null,"symbolType":"stroke","symbolSize":729,"symbolStrokeWidth":2,"labelFont":"Lato","labelFontSize":14,"labelFontWeight":"bold","labelColor":"#404040","labelLimit":0,"rowPadding":26,"labelOffset":7,"padding":0}
},
"resolve":{"scale":{"y":"independent"},"axis":{"x":"independent"}},
"layer":[
{"layer":[
{"data":{"name":"meter"},"mark":{"type":"line","strokeWidth":1.2},
"encoding":{
"x":{"field":"t","type":"temporal","scale":{"type":"utc","nice":false,"domain":[{"year":2010,"month":3,"date":13,"utc":true},{"year":2010,"month":3,"date":21,"utc":true}]},
"axis":{"orient":"bottom","title":"Date/Time","titlePadding":12,"values":[{"year":2010,"month":3,"date":13,"utc":true},{"year":2010,"month":3,"date":14,"utc":true},{"year":2010,"month":3,"date":15,"utc":true},{"year":2010,"month":3,"date":16,"utc":true},{"year":2010,"month":3,"date":17,"utc":true},{"year":2010,"month":3,"date":18,"utc":true},{"year":2010,"month":3,"date":19,"utc":true},{"year":2010,"month":3,"date":20,"utc":true},{"year":2010,"month":3,"date":21,"utc":true}],"labelExpr":"utcFormat(datum.value, '%-m/%-d/%y %-H:%M')","ticks":false,"labelPadding":9,"labelFontSize":9.5,"grid":true,"labelOverlap":false,"labelBound":false,"domainWidth":1.5}},
"y":{"field":"v","type":"quantitative","scale":{"domain":[0,225],"nice":false,"zero":true},
"axis":{"orient":"left","title":"Discharge (MGD)","titlePadding":14,"values":[0,25,50,75,100,125,150,175,200,225],"tickSize":4,"labelPadding":4,"grid":true,"domainWidth":1.5}},
"color":{"datum":"Meter at Alewife Brook Q","scale":{"domain":["Meter at Alewife Brook Q","Model at Alewife Brook Q","Meter at Aleweife Brook Q - Reconstructed","BO-DI-1 Rain","CH-BO-1 Rain","RG-WF-1 Rain","HF-1C Rain","Fresh Pond Rain"],"range":["#C4C4C4","#E3302F","#C0141C","#2E4A8E","#D2A52A","#7FA7D9","#2F5F3A","#3A3F3A"]}},
"strokeDash":{"datum":"Meter at Alewife Brook Q","scale":{"domain":["Meter at Alewife Brook Q","Model at Alewife Brook Q","Meter at Aleweife Brook Q - Reconstructed","BO-DI-1 Rain","CH-BO-1 Rain","RG-WF-1 Rain","HF-1C Rain","Fresh Pond Rain"],"range":[[2,2],[1,0],[9,4,2,4],[1,0],[1,0],[1,0],[1,0],[1,0]]}}
}},
{"data":{"name":"gaps"},"mark":{"type":"rule","strokeWidth":1,"strokeDash":[2,2],"color":"#E07070"},
"encoding":{"x":{"field":"t","type":"temporal"},"y":{"field":"v","type":"quantitative"},"y2":{"datum":0}}},
{"data":{"name":"model"},"mark":{"type":"line","strokeWidth":2},
"encoding":{"x":{"field":"t","type":"temporal"},"y":{"field":"v","type":"quantitative"},"color":{"datum":"Model at Alewife Brook Q"},"strokeDash":{"datum":"Model at Alewife Brook Q"}}},
{"data":{"name":"recon"},"mark":{"type":"line","strokeWidth":2},
"encoding":{"x":{"field":"t","type":"temporal"},"y":{"field":"v","type":"quantitative"},"color":{"datum":"Meter at Aleweife Brook Q - Reconstructed"},"strokeDash":{"datum":"Meter at Aleweife Brook Q - Reconstructed"}}}
]},
{"layer":[
{"data":{"name":"bodi"},"mark":{"type":"line","strokeWidth":1.8},
"encoding":{
"x":{"field":"t","type":"temporal","axis":{"orient":"top","title":null,"labels":false,"ticks":false,"grid":false,"domainColor":"#808080","domainWidth":1.5}},
"y":{"field":"v","type":"quantitative","scale":{"domain":[0,1],"reverse":true,"nice":false},
"axis":{"orient":"right","title":"Rainfall (in)","titleAngle":270,"titleFontSize":13,"titlePadding":19,"values":[0,0.1,0.2,0.3,0.4,0.5,0.6,0.7,0.8,0.9,1],"format":".1~f","tickSize":5,"labelPadding":5,"grid":false,"domainWidth":1.5}},
"color":{"datum":"BO-DI-1 Rain"},"strokeDash":{"datum":"BO-DI-1 Rain"}}},
{"data":{"name":"chbo"},"mark":{"type":"line","strokeWidth":1.8},
"encoding":{"x":{"field":"t","type":"temporal"},"y":{"field":"v","type":"quantitative"},"color":{"datum":"CH-BO-1 Rain"},"strokeDash":{"datum":"CH-BO-1 Rain"}}},
{"data":{"name":"rgwf"},"mark":{"type":"line","strokeWidth":1.8},
"encoding":{"x":{"field":"t","type":"temporal"},"y":{"field":"v","type":"quantitative"},"color":{"datum":"RG-WF-1 Rain"},"strokeDash":{"datum":"RG-WF-1 Rain"}}},
{"data":{"name":"hf1c"},"mark":{"type":"line","strokeWidth":1.8},
"encoding":{"x":{"field":"t","type":"temporal"},"y":{"field":"v","type":"quantitative"},"color":{"datum":"HF-1C Rain"},"strokeDash":{"datum":"HF-1C Rain"}}},
{"data":{"name":"fresh"},"mark":{"type":"line","strokeWidth":1.8},
"encoding":{"x":{"field":"t","type":"temporal"},"y":{"field":"v","type":"quantitative"},"color":{"datum":"Fresh Pond Rain"},"strokeDash":{"datum":"Fresh Pond Rain"}}}
]}
]
}
